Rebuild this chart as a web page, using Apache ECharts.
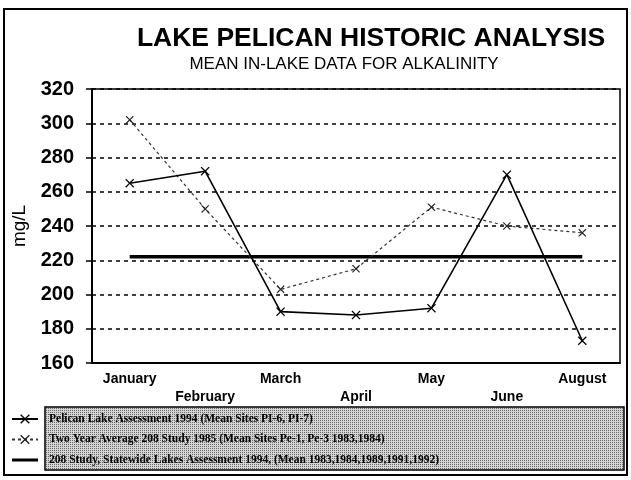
<!DOCTYPE html>
<html>
<head>
<meta charset="utf-8">
<script src="https://cdn.jsdelivr.net/npm/echarts@6/dist/echarts.min.js"></script>
<style>
  html, body { margin: 0; padding: 0; background: #fff; }
  #chart { width: 631px; height: 480px; }
</style>
</head>
<body>
<div id="chart"></div>
<script>
// months sampled
const months = ['January', 'February', 'March', 'April', 'May', 'June', 'August'];
// Pelican Lake Assessment 1994
const pelican1994 = [265, 272, 190, 188, 192, 270, 173];
// two year average, 208 study 1985
const twoYearAvg = [302, 250, 203, 215, 251, 240, 236];
// 208 study statewide mean
const statewide = [222, 222, 222, 222, 222, 222, 222];

const seriesNames = [
    'Pelican Lake Assessment 1994 (Mean Sites PI-6, PI-7)',
    'Two Year Average 208 Study 1985 (Mean Sites Pe-1, Pe-3 1983,1984)',
    '208 Study, Statewide Lakes Assessment 1994, (Mean 1983,1984,1989,1991,1992)'
];

const crossPath = 'path://M0,1L1,0L5,4L9,0L10,1L6,5L10,9L9,10L5,6L1,10L0,9L4,5Z';
// thick bar in the middle of a 26x12 box
const barIcon = 'path://M0,0L0.01,0L0.01,12L0,12Z M0,4.5L26,4.5L26,7.5L0,7.5Z';

// little checker pattern for the legend box
let pat = document.createElement('canvas');
pat.width = 4; pat.height = 4;
let ctx = pat.getContext('2d');
ctx.fillStyle = '#d4d4d4';
ctx.fillRect(0, 0, 4, 4);
ctx.fillStyle = '#6a6a6a';
ctx.fillRect(0, 0, 1, 1);
ctx.fillRect(2, 2, 1, 1);
ctx.fillRect(2, 0, 1, 1);
ctx.fillRect(0, 2, 1, 1);

let myChart = echarts.init(document.getElementById('chart'));

let option = {
    backgroundColor: '#fff',
    animation: false,
    title: [{
        text: 'LAKE PELICAN HISTORIC ANALYSIS',
        left: 366,
        textAlign: 'center',
        top: 20,
        textStyle: { fontFamily: 'Liberation Sans', fontWeight: 'bold', fontSize: 26.5, color: '#000' }
    }, {
        text: 'MEAN IN-LAKE DATA FOR ALKALINITY',
        left: 339,
        textAlign: 'center',
        top: 51,
        textStyle: { fontFamily: 'Liberation Sans', fontWeight: 'normal', fontSize: 17, color: '#000' }
    }],
    graphic: [{
        type: 'rect',
        z: 0,
        shape: { x: 4, y: 9, width: 623, height: 466 },
        style: { fill: 'none', stroke: '#000', lineWidth: 2 }
    }, {
        type: 'rect',
        z: 0,
        shape: { x: 45, y: 407, width: 579, height: 63 },
        style: { fill: { image: pat, repeat: 'repeat' }, stroke: '#000', lineWidth: 1.5 }
    }],
    legend: {
        orient: 'vertical',
        left: 6,
        top: 408,
        z: 10,
        itemWidth: 26,
        itemHeight: 12,
        itemGap: 8.5,
        selectedMode: false,
        textStyle: {
            fontFamily: 'Liberation Serif',
            fontWeight: 'bold',
            fontSize: 11.5,
            color: '#000',
            padding: [0, 0, 0, 6]
        },
        data: [
            { name: seriesNames[0] },
            { name: seriesNames[1] },
            { name: seriesNames[2], icon: barIcon, itemStyle: { color: '#000' } }
        ]
    },
    grid: {
        left: 92,
        right: 11,
        top: 89,
        bottom: 117,
        show: true,
        borderColor: '#000',
        borderWidth: 1.5
    },
    xAxis: {
        type: 'category',
        data: months,
        boundaryGap: true,
        axisLine: { lineStyle: { color: '#000', width: 2 } },
        axisTick: { alignWithLabel: true, length: 5, lineStyle: { color: '#000', width: 1.5 } },
        axisLabel: {
            interval: 0,
            margin: 7,
            color: '#000',
            fontFamily: 'Liberation Sans',
            fontWeight: 'bold',
            fontSize: 14,
            lineHeight: 18,
            formatter: (v, i) => (i % 2 == 1 ? '\n' + v : v)
        }
    },
    yAxis: {
        type: 'value',
        min: 160,
        max: 320,
        interval: 20,
        name: 'mg/L',
        nameLocation: 'middle',
        nameGap: 60,
        nameTextStyle: { fontFamily: 'Liberation Sans', fontSize: 19, color: '#000' },
        axisLine: { show: true, lineStyle: { color: '#000', width: 2 } },
        axisTick: { show: true, length: 6, lineStyle: { color: '#000', width: 1.5 } },
        axisLabel: {
            margin: 18,
            color: '#000',
            fontFamily: 'Liberation Sans',
            fontWeight: 'bold',
            fontSize: 20
        },
        splitLine: { show: true, lineStyle: { color: '#000', type: [4, 4], width: 1.5 } }
    },
    series: [{
        name: seriesNames[0],
        type: 'line',
        data: pelican1994,
        symbol: crossPath,
        symbolSize: 9,
        itemStyle: { color: '#000' },
        lineStyle: { color: '#000', width: 1.6 },
        z: 5
    }, {
        name: seriesNames[1],
        type: 'line',
        data: twoYearAvg,
        symbol: crossPath,
        symbolSize: 8,
        itemStyle: { color: '#222' },
        lineStyle: { color: '#333', width: 1.2, type: [3, 3] },
        z: 4
    }, {
        name: seriesNames[2],
        type: 'line',
        data: statewide,
        symbol: 'none',
        itemStyle: { color: '#000' },
        lineStyle: { color: '#000', width: 3.5 },
        z: 3
    }]
};
myChart.setOption(option);
</script>
</body>
</html>
